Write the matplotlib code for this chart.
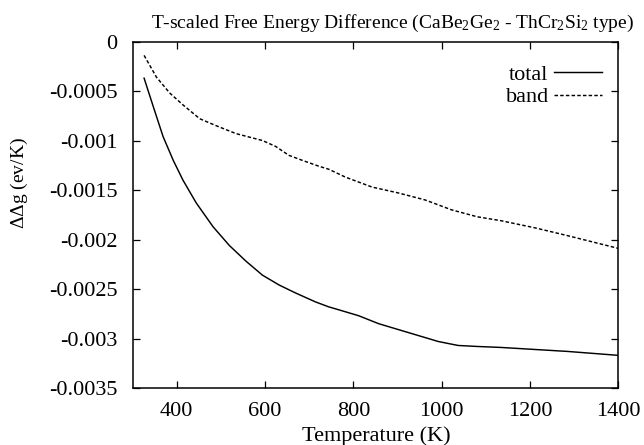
import matplotlib
matplotlib.use("Agg")
import matplotlib.pyplot as plt

plt.rcParams['font.family'] = ['Liberation Serif', 'DejaVu Serif']
plt.rcParams['mathtext.fontset'] = 'custom'
plt.rcParams['mathtext.rm'] = 'Liberation Serif'
plt.rcParams['mathtext.it'] = 'Liberation Serif:italic'
plt.rcParams['axes.unicode_minus'] = False

# Data
total_T = [326, 347, 369, 392, 414, 444, 482, 519, 557, 594, 632, 669, 714, 744, 767, 812, 857,
           902, 947, 992, 1037, 1080, 1134, 1209, 1284, 1400]
total_g = [-0.00037, -0.00066, -0.00096, -0.00120, -0.00140, -0.00163, -0.00187, -0.00206, -0.00222,
           -0.00236, -0.00246, -0.00254, -0.00263, -0.00268, -0.00271, -0.00277, -0.00285, -0.00291,
           -0.00297, -0.00303, -0.00307, -0.00308, -0.00309, -0.00311, -0.00313, -0.00317]
band_T = [326, 354, 384, 414, 452, 489, 534, 594, 624, 654, 684, 722, 744, 782, 842, 902, 962,
          1022, 1080, 1134, 1209, 1284, 1400]
band_g = [-0.00014, -0.00036, -0.00052, -0.00064, -0.00078, -0.00085, -0.00093, -0.00100, -0.00106,
          -0.00115, -0.00120, -0.00126, -0.00129, -0.00137, -0.00147, -0.00153, -0.00160, -0.00170,
          -0.00177, -0.00181, -0.00188, -0.00196, -0.00209]

x_ticks = [400, 600, 800, 1000, 1200, 1400]
y_ticks = [-0.0035, -0.003, -0.0025, -0.002, -0.0015, -0.001, -0.0005, 0]
y_tick_labels = ["-0.0035", "-0.003", "-0.0025", "-0.002", "-0.0015", "-0.001", "-0.0005", "0"]

fig = plt.figure(figsize=(6.44, 4.45), dpi=100)
ax = fig.add_axes([0.2059, 0.128, 0.7545, 0.7787])

ax.plot(total_T, total_g, color='black', lw=1.05, label='total')
ax.plot(band_T, band_g, color='black', lw=1.05, linestyle=(0, (2.4, 1.5)), label='band')

ax.set_xlim(300, 1400)
ax.set_ylim(-0.0035, 0)
ax.set_xticks(x_ticks)
ax.set_xticklabels([str(t) for t in x_ticks])
ax.set_yticks(y_ticks)
ax.set_yticklabels(y_tick_labels)
ax.tick_params(direction='in', length=5, width=0.9, top=True, right=True, labelsize=16)
ax.tick_params(axis='x', pad=10)
ax.tick_params(axis='y', pad=11)
for s in ax.spines.values():
    s.set_linewidth(1.1)

fig.text(0.585, 0.009, 'Temperature (K)', fontsize=16, ha='center', va='baseline')
fig.text(0.03, 0.589, r'$\Delta\Delta$g (ev/K)', rotation=90, fontsize=14, ha='center', va='center')

fig.text(0.6095, 0.937, r'T-scaled Free Energy Difference (CaBe$_2$Ge$_2$ - ThCr$_2$Si$_2$ type)',
         fontsize=14, ha='center', va='baseline')

leg = ax.legend(loc='upper right', frameon=False, markerfirst=False, fontsize=16,
                handlelength=2.15, handletextpad=0.25, borderaxespad=0, borderpad=0,
                labelspacing=0.1, bbox_to_anchor=(0.966, 0.935))

fig.savefig('out.png', dpi=100)
